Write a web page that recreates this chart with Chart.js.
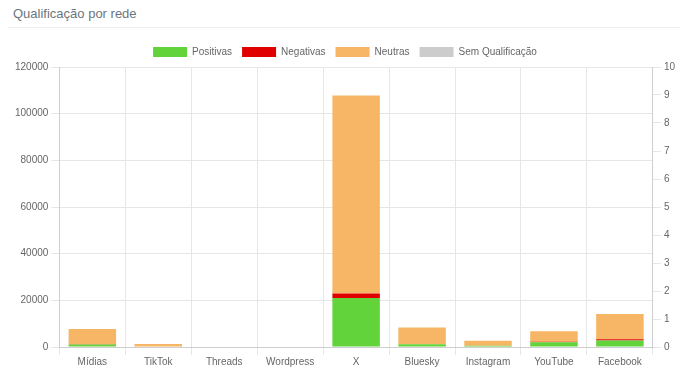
<!DOCTYPE html>
<html>
<head>
<meta charset="utf-8">
<script src="https://cdn.jsdelivr.net/npm/chart.js@4/dist/chart.umd.min.js"></script>
<style>
  body { margin: 0; background: #fff; font-family: "Liberation Sans", Arial, sans-serif; }
  .header { position: absolute; left: 13px; top: 6px; font-size: 13px; color: #6c757d; }
  .sep { position: absolute; left: 8px; right: 8px; top: 27px; border-top: 1px solid #eceef0; }
  .wrap { position: absolute; left: 0; top: 37px; width: 688px; height: 339px; }
</style>
</head>
<body>
<div class="header">Qualificação por rede</div>
<div class="sep"></div>
<div class="wrap"><canvas id="chart"></canvas></div>
<script>
const redes = ['Mídias', 'TikTok', 'Threads', 'Wordpress', 'X', 'Bluesky', 'Instagram', 'YouTube', 'Facebook'];
const positivas = [1100, 200, 0, 0, 21000, 1200, 500, 2000, 2800];
const negativas = [100, 0, 0, 0, 1900, 0, 0, 200, 500];
const neutras = [6500, 1100, 200, 0, 84900, 7200, 2200, 4600, 10800];
const semQualificacao = [0, 0, 0, 0, 0, 0, 0, 0, 0];

Chart.defaults.font.family = '"Liberation Sans", Arial, sans-serif';
Chart.defaults.font.size = 10;
Chart.defaults.color = '#666';

new Chart(document.getElementById('chart'), {
  type: 'bar',
  data: {
    labels: redes,
    datasets: [
      { label: 'Positivas', data: positivas, backgroundColor: '#63d33b' },
      { label: 'Negativas', data: negativas, backgroundColor: '#e00000' },
      { label: 'Neutras', data: neutras, backgroundColor: '#f7b566' },
      { label: 'Sem Qualificação', data: semQualificacao, backgroundColor: '#cccccc' }
    ]
  },
  options: {
    responsive: true,
    maintainAspectRatio: false,
    animation: false,
    layout: { padding: { left: 12, right: 10, bottom: 7 } },
    plugins: {
      legend: { labels: { boxWidth: 34, boxHeight: 10, padding: 10 } },
      tooltip: { enabled: false }
    },
    scales: {
      x: { stacked: true, grid: { color: '#e6e6e6' }, ticks: { padding: 1 } },
      y: {
        stacked: true, min: 0, max: 120000,
        ticks: { stepSize: 20000, callback: v => String(v) },
        grid: { color: '#e6e6e6' }
      },
      y1: {
        position: 'right', min: 0, max: 10,
        ticks: { stepSize: 1 },
        grid: { drawOnChartArea: false }
      }
    }
  }
});
</script>
</body>
</html>
